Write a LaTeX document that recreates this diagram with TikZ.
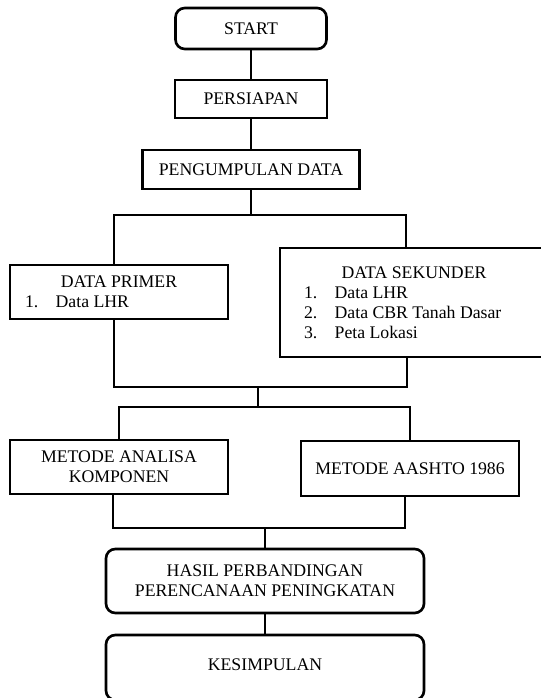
\documentclass[tikz,border=0pt]{standalone}
\usepackage{fontspec}
\setmainfont{Liberation Serif}
\begin{document}
\begin{tikzpicture}[x=0.75pt,y=-0.75pt,line width=2pt,
        box/.style={draw,rectangle,inner sep=0pt,minimum width=163.5pt,minimum height=40.5pt,
            font=\fontsize{13.3}{15}\selectfont},
        roundbox/.style={box,rounded corners=7pt},
        listbox/.style={box,align=left,text badly ragged}]
    \useasboundingbox (0,0) rectangle (540,698);
    \node[roundbox,minimum width=113.25pt,minimum height=30.75pt] (start) at (251,28.5) {START};
    \node[box,minimum width=114pt,minimum height=28.5pt] (persiapan) at (251,99) {PERSIAPAN};
    \node[box,minimum width=162.75pt,minimum height=29.25pt] (kumpul) at (251,169.5) {PENGUMPULAN DATA};
    \node[listbox] (primer) at (119,292) {\makebox[141pt]{DATA PRIMER}\\
        \makebox[23pt][l]{1.}Data LHR};
    \node[listbox,minimum width=201pt,minimum height=81.75pt] (sekunder) at (414,302.5) {\makebox[165pt]{DATA SEKUNDER}\\
        \makebox[23pt][l]{1.}Data LHR\\
        \makebox[23pt][l]{2.}Data CBR Tanah Dasar\\
        \makebox[23pt][l]{3.}Peta Lokasi};
    \node[box,align=center] (analisa) at (119,467) {METODE ANALISA\\KOMPONEN};
    \node[box,minimum height=41.25pt] (aashto) at (410,468.5) {METODE AASHTO 1986};
    \node[roundbox,align=center,minimum width=238.5pt,minimum height=48pt] (hasil) at (265,581) {HASIL PERBANDINGAN\\PERENCANAAN PENINGKATAN};
    \node[roundbox,minimum width=238.5pt,minimum height=48.75pt] (kesimpulan) at (265,667.5) {\raisebox{4pt}{KESIMPULAN}};
    % junctions
    \coordinate (j1) at (251,215);
    \coordinate (j2) at (258,387);
    \coordinate (j3) at (258,407);
    \coordinate (j4) at (265,528);
    \draw (start) -- (persiapan);
    \draw (persiapan) -- (kumpul);
    \draw (kumpul) -- (j1);
    \draw ([xshift=-3.75pt]primer.north) |- (j1) -| ([xshift=-6pt]sekunder.north);
    \draw ([xshift=-3.75pt]primer.south) |- (j2) -| ([xshift=-5.25pt]sekunder.south);
    \draw (j2) -- (j3);
    \draw (analisa.north) |- (j3) -| (aashto.north);
    \draw ([xshift=-4.5pt]analisa.south) |- (j4) -| ([xshift=-3.75pt]aashto.south);
    \draw (j4) -- (hasil);
    \draw (hasil) -- (kesimpulan);
\end{tikzpicture}
\end{document}
